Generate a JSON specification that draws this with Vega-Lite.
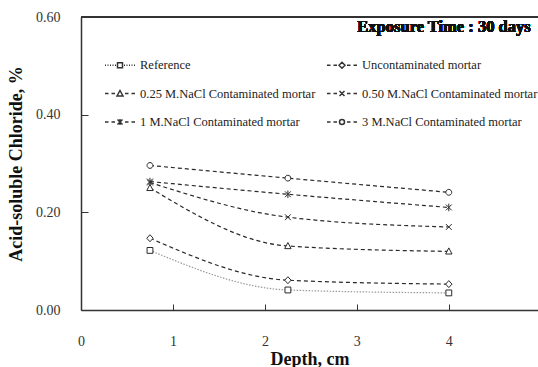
{
  "$schema": "https://vega.github.io/schema/vega-lite/v6.json",
  "width": 457,
  "height": 293,
  "autosize": "none",
  "padding": {"left": 81, "top": 17, "right": 0, "bottom": 57},
  "background": "white",
  "config": {
    "view": {"stroke": null},
    "font": "Liberation Serif",
    "axis": {
      "grid": false,
      "domainColor": "#333",
      "domainWidth": 1.5,
      "tickColor": "#333",
      "tickWidth": 1,
      "labelFont": "Liberation Serif",
      "labelFontSize": 14,
      "labelColor": "#333",
      "labelFlush": false,
      "titleFont": "Liberation Serif",
      "titleFontSize": 18,
      "titleFontWeight": "bold",
      "titleColor": "#111"
    }
  },
  "data": {
    "values": [
      {"series": "Reference", "depth": 0.75, "chloride": 0.122},
      {"series": "Reference", "depth": 2.25, "chloride": 0.041},
      {"series": "Reference", "depth": 4, "chloride": 0.035},
      {"series": "Uncontaminated mortar", "depth": 0.75, "chloride": 0.147},
      {"series": "Uncontaminated mortar", "depth": 2.25, "chloride": 0.061},
      {"series": "Uncontaminated mortar", "depth": 4, "chloride": 0.053},
      {"series": "0.25 M.NaCl Contaminated mortar", "depth": 0.75, "chloride": 0.25},
      {"series": "0.25 M.NaCl Contaminated mortar", "depth": 2.25, "chloride": 0.131},
      {"series": "0.25 M.NaCl Contaminated mortar", "depth": 4, "chloride": 0.12},
      {"series": "0.50 M.NaCl Contaminated mortar", "depth": 0.75, "chloride": 0.261},
      {"series": "0.50 M.NaCl Contaminated mortar", "depth": 2.25, "chloride": 0.19},
      {"series": "0.50 M.NaCl Contaminated mortar", "depth": 4, "chloride": 0.17},
      {"series": "1 M.NaCl Contaminated mortar", "depth": 0.75, "chloride": 0.263},
      {"series": "1 M.NaCl Contaminated mortar", "depth": 2.25, "chloride": 0.237},
      {"series": "1 M.NaCl Contaminated mortar", "depth": 4, "chloride": 0.21},
      {"series": "3 M.NaCl Contaminated mortar", "depth": 0.75, "chloride": 0.296},
      {"series": "3 M.NaCl Contaminated mortar", "depth": 2.25, "chloride": 0.27},
      {"series": "3 M.NaCl Contaminated mortar", "depth": 4, "chloride": 0.241}
    ]
  },
  "resolve": {"scale": {"shape": "independent"}},
  "layer": [
    {
      "mark": {"type": "rule", "color": "#333", "strokeWidth": 1.5},
      "encoding": {"y": {"datum": 0.6, "type": "quantitative"}}
    },
    {
      "mark": {"type": "line", "interpolate": "monotone", "strokeWidth": 1.2},
      "encoding": {
        "x": {"field": "depth", "type": "quantitative",
          "scale": {"domain": [0, 4.97], "nice": false, "zero": false},
          "axis": {"title": "Depth, cm", "values": [0, 1, 2, 3, 4], "format": "d", "tickSize": -6, "labelPadding": 30, "titlePadding": 2}},
        "y": {"field": "chloride", "type": "quantitative",
          "scale": {"domain": [0, 0.6], "nice": false},
          "axis": {"title": "Acid-soluble Chloride, %", "values": [0, 0.2, 0.4, 0.6], "format": ".2f", "tickSize": -7, "labelPadding": 28, "titlePadding": 10}},
        "detail": {"field": "series", "type": "nominal"},
        "color": {"condition": {"test": "datum.series === 'Reference'", "value": "#999"}, "value": "#2a2a2a"},
        "strokeDash": {"condition": {"test": "datum.series === 'Reference'", "value": [1.5, 1.5]}, "value": [4, 3]}
      }
    },
    {
      "mark": {"type": "point", "filled": true, "fill": "white", "stroke": "#2a2a2a", "strokeWidth": 1, "size": 34, "opacity": 1},
      "encoding": {
        "x": {"field": "depth", "type": "quantitative"},
        "y": {"field": "chloride", "type": "quantitative"},
        "shape": {"field": "series", "type": "nominal", "legend": null,
          "scale": {"domain": ["3 M.NaCl Contaminated mortar", "1 M.NaCl Contaminated mortar", "0.50 M.NaCl Contaminated mortar", "0.25 M.NaCl Contaminated mortar", "Uncontaminated mortar", "Reference"],
            "range": ["M-1,0A1,1,0,1,1,1,0A1,1,0,1,1,-1,0Z", "M-1,-1L1,1M1,-1L-1,1M0,-1.3V1.3", "M-1,-1L1,1M1,-1L-1,1", "M0,-1.2L1.1,0.9H-1.1Z", "M0,-1.2L1.1,0L0,1.2L-1.1,0Z", "M-1,-1H1V1H-1Z"]}}
      }
    },
    {
      "transform": [{"filter": "false"}],
      "mark": {"type": "point", "filled": true, "fill": "white", "stroke": "#333", "strokeWidth": 1, "opacity": 1},
      "encoding": {
        "x": {"field": "depth", "type": "quantitative"},
        "y": {"field": "chloride", "type": "quantitative"},
        "shape": {"field": "series", "type": "nominal",
          "scale": {"domain": ["Reference", "Uncontaminated mortar", "0.25 M.NaCl Contaminated mortar", "0.50 M.NaCl Contaminated mortar", "1 M.NaCl Contaminated mortar", "3 M.NaCl Contaminated mortar"],
            "range": [
              "M-1.5,0H-1.4M-1.25,0H-1.15M-1,0H-0.9M-0.75,0H-0.65M-0.5,0H-0.4M0.4,0H0.5M0.65,0H0.75M0.9,0H1M1.15,0H1.25M1.4,0H1.5M-0.25,-0.25H0.25V0.25H-0.25Z",
              "M-1.5,0H-1.15M-0.85,0H-0.5M0.5,0H0.85M1.15,0H1.5M0,-0.3L0.3,0L0,0.3L-0.3,0Z",
              "M-1.5,0H-1.15M-0.85,0H-0.5M0.5,0H0.85M1.15,0H1.5M0,-0.3L0.3,0.25H-0.3Z",
              "M-1.5,0H-1.15M-0.85,0H-0.5M0.5,0H0.85M1.15,0H1.5M-0.25,-0.25L0.25,0.25M0.25,-0.25L-0.25,0.25",
              "M-1.5,0H-1.15M-0.85,0H-0.5M0.5,0H0.85M1.15,0H1.5M-0.25,-0.25L0.25,0.25M0.25,-0.25L-0.25,0.25M0,-0.3V0.3",
              "M-1.5,0H-1.15M-0.85,0H-0.5M0.5,0H0.85M1.15,0H1.5M-0.25,0A0.25,0.25,0,1,1,0.25,0A0.25,0.25,0,1,1,-0.25,0Z"
            ]},
          "legend": {
            "title": null,
            "orient": "none",
            "direction": "horizontal",
            "legendX": 28,
            "legendY": 37,
            "columns": 2,
            "padding": 0,
            "symbolSize": 400,
            "labelOffset": 9,
            "labelLimit": 400,
            "columnPadding": 8,
            "rowPadding": 10.5,
            "labelFont": "Liberation Serif",
            "labelFontSize": 12.5,
            "labelColor": "#222",
            "encode": {
              "symbols": {
                "update": {
                  "fill": {"value": "white"},
                  "stroke": {"value": "#333"},
                  "strokeWidth": {"value": 1},
                  "opacity": {"value": 1}
                }
              }
            }
          }
        }
      }
    },
    {
      "mark": {"type": "text", "text": "Exposure Time : 30 days", "align": "right", "baseline": "alphabetic", "font": "Liberation Serif", "fontSize": 16.5, "fontWeight": "bold", "color": "#111"},
      "encoding": {
        "x": {"datum": 4.89, "type": "quantitative"},
        "y": {"datum": 0.569, "type": "quantitative"}
      }
    }
  ]
}
